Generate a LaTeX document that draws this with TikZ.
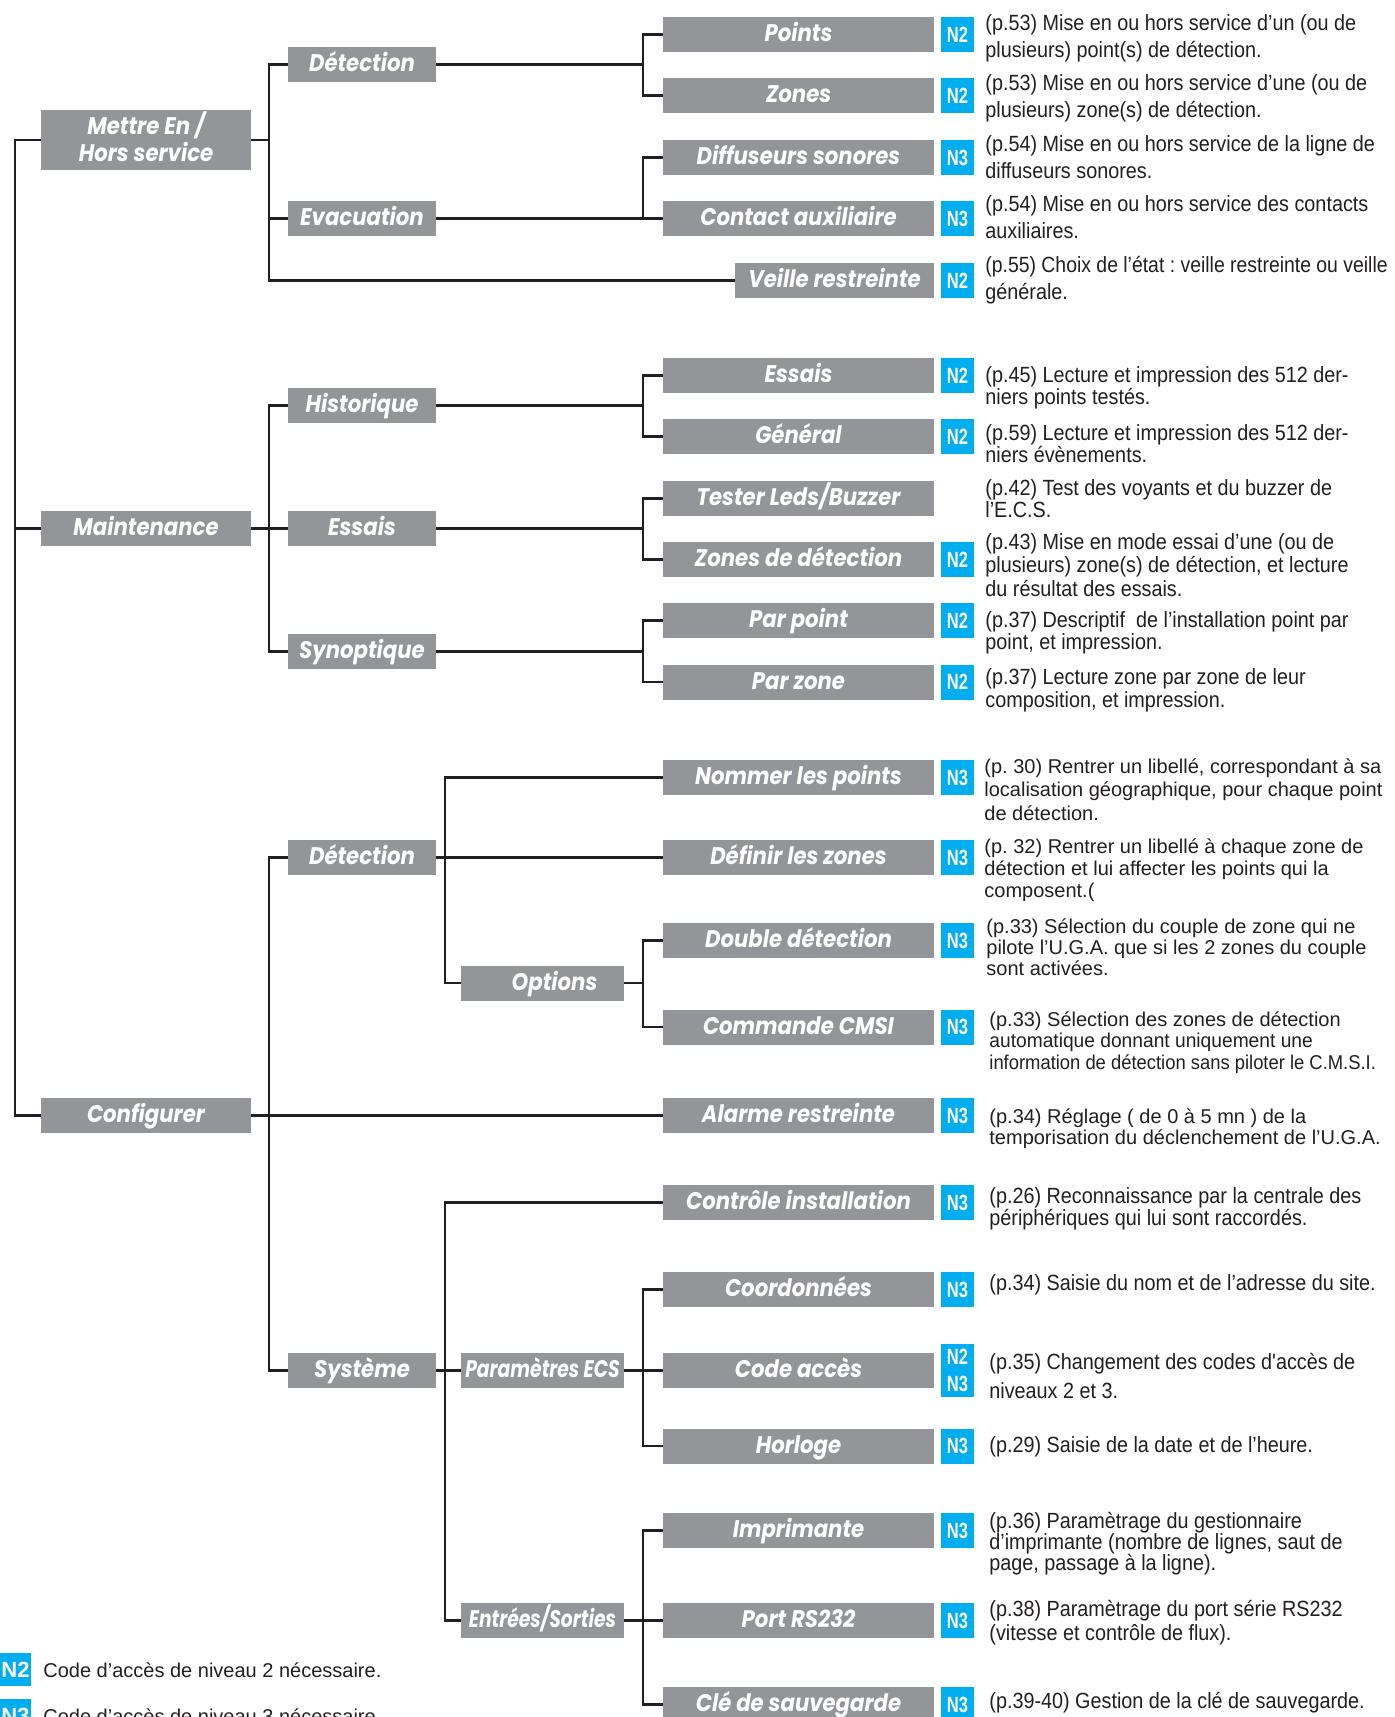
\documentclass[tikz,border=0pt]{standalone}
\usepackage{fontspec}
\setmainfont{Liberation Sans}
\newfontfamily\lblfont{Poppins}[FakeStretch=0.885]
\newfontfamily\lblcfont{Poppins}[FakeStretch=0.78]
\newfontfamily\condfont{Liberation Sans}[FakeStretch=0.9]
\newfontfamily\regfont{Liberation Sans}
\newfontfamily\badgefont{Liberation Sans}[FakeStretch=0.75]
\definecolor{boxgray}{HTML}{939598}
\definecolor{badgeblue}{HTML}{00AEEF}
\definecolor{ink}{HTML}{231F20}
\newcommand\dl[1]{\hbox{#1}}
\newcommand\blk[2]{\vtop{\baselineskip=#1\relax\lineskiplimit=-100pt\relax #2}}
\frenchspacing
\begin{document}
\frenchspacing
\begin{tikzpicture}[x=0.5pt,y=-0.5pt,
  conn/.style={draw=ink, line width=1.3pt},
  box/.style={fill=boxgray, text=white, inner sep=0pt, minimum height=17.5pt},
  lab/.style={box, text height=8.4pt, text depth=1pt, font=\lblfont\bfseries\itshape\fontsize{12}{12}\selectfont},
  labc/.style={lab, font=\lblcfont\bfseries\itshape\fontsize{12}{12}\selectfont},
  topbox/.style={lab, minimum width=105pt},
  lvtwo/.style={lab, minimum width=74pt},
  midbox/.style={labc, minimum width=81.5pt},
  lvthree/.style={lab, minimum width=135.5pt},
  badge/.style={fill=badgeblue, text=white, inner sep=0pt, minimum width=16.5pt, minimum height=17.5pt, text height=7.9pt, text depth=0pt, font=\badgefont\bfseries\fontsize{11}{13.5}\selectfont},
  legbadge/.style={fill=badgeblue, text=white, inner sep=0pt, minimum width=15.5pt, minimum height=16.5pt, text height=7.9pt, text depth=0pt, font=\regfont\bfseries\fontsize{11}{13}\selectfont},
  desc/.style={anchor=base west, inner sep=0pt, text=ink, font=\condfont\fontsize{11}{13}\selectfont},
  descr/.style={desc, font=\regfont\fontsize{10}{11}\selectfont},
  legtext/.style={anchor=base west, inner sep=0pt, text=ink, font=\regfont\fontsize{10}{12}\selectfont}
]
\useasboundingbox (0,0) rectangle (1395,1717);
\fill[white] (0,0) rectangle (1395,1717);

% trunk coordinates
\coordinate (tL) at (15,0);
\coordinate (tB) at (269,0);
\coordinate (tD) at (445,0);
\coordinate (tC) at (643,0);

% top level
\node[box, minimum width=105pt, minimum height=30pt, font=\lblfont\bfseries\itshape\fontsize{12}{12.5}\selectfont] (mettre) at (146,140) {\raisebox{1.6pt}{\begin{tabular}{@{}c@{}}Mettre En /\\Hors service\end{tabular}}};
\node[topbox] (maint) at (146,528.5) {Maintenance};
\node[topbox] (config) at (146,1115.5) {Configurer};

% level 2
\node[lvtwo] (det1) at (362,64.5) {Détection};
\node[lvtwo] (evac) at (362,218.5) {Evacuation};
\node[lvtwo] (hist) at (362,405.5) {Historique};
\node[lvtwo] (ess2) at (362,528.5) {Essais};
\node[lvtwo] (syno) at (362,651.5) {Synoptique};
\node[lvtwo] (det2) at (362,857.5) {Détection};
\node[lvtwo] (sys) at (362,1370.5) {Système};

% intermediate
\node[lab, minimum width=81.5pt] (opt) at (542.5,983) {\hspace{12pt}Options};
\node[midbox] (params) at (542.5,1370.5) {Paramètres ECS};
\node[midbox] (es) at (542.5,1620.5) {Entrées/Sorties};

% level 3
\node[lvthree] (points) at (798.5,34.5) {Points};
\node[lvthree] (zones) at (798.5,95.5) {Zones};
\node[lvthree] (diff) at (798.5,157.5) {Diffuseurs sonores};
\node[lvthree] (contact) at (798.5,218.5) {Contact auxiliaire};
\node[lab, minimum width=99.5pt] (veille) at (834.5,280.5) {Veille restreinte};
\node[lvthree] (ess3) at (798.5,375.5) {Essais};
\node[lvthree] (gen) at (798.5,436.5) {Général};
\node[lvthree] (tester) at (798.5,498.5) {Tester Leds/Buzzer};
\node[lvthree] (zdet) at (798.5,559.5) {Zones de détection};
\node[lvthree] (parpoint) at (798.5,620.5) {Par point};
\node[lvthree] (parzone) at (798.5,682) {Par zone};
\node[lvthree] (nommer) at (798.5,777.5) {Nommer les points};
\node[lvthree] (definir) at (798.5,857.5) {Définir les zones};
\node[lvthree] (double) at (798.5,940.5) {Double détection};
\node[lvthree] (cmsi) at (798.5,1027) {Commande CMSI};
\node[lvthree] (alarme) at (798.5,1115.5) {Alarme restreinte};
\node[lvthree] (controle) at (798.5,1202.5) {Contrôle installation};
\node[lvthree] (coord) at (798.5,1289.5) {Coordonnées};
\node[lvthree] (codeacc) at (798.5,1370.5) {Code accès};
\node[lvthree] (horloge) at (798.5,1446) {Horloge};
\node[lvthree] (impr) at (798.5,1530.5) {Imprimante};
\node[lvthree] (port) at (798.5,1620.5) {Port RS232};
\node[lvthree] (cle) at (798.5,1704.5) {Clé de sauvegarde};

% connectors
\draw[conn] (mettre.west) -- (mettre.west -| tL) |- (config.west);
\draw[conn] (maint.west) -- (maint.west -| tL);

\draw[conn] (det1.west) -- (det1.west -| tB) |- (veille.west);
\draw[conn] (mettre.east) -- (mettre.east -| tB);
\draw[conn] (evac.west) -- (evac.west -| tB);
\draw[conn] (hist.west) -- (hist.west -| tB) |- (syno.west);
\draw[conn] (maint.east) -- (ess2.west);
\draw[conn] (det2.west) -- (det2.west -| tB) |- (sys.west);
\draw[conn] (config.east) -- (alarme.west);

\draw[conn] (det1.east) -- (det1.east -| tC);
\draw[conn] (points.west) -- (points.west -| tC) |- (zones.west);
\draw[conn] (evac.east) -- (contact.west);
\draw[conn] (diff.west) -- (diff.west -| tC) |- (contact.west);
\draw[conn] (hist.east) -- (hist.east -| tC);
\draw[conn] (ess3.west) -- (ess3.west -| tC) |- (gen.west);
\draw[conn] (ess2.east) -- (ess2.east -| tC);
\draw[conn] (tester.west) -- (tester.west -| tC) |- (zdet.west);
\draw[conn] (syno.east) -- (syno.east -| tC);
\draw[conn] (parpoint.west) -- (parpoint.west -| tC) |- (parzone.west);

\draw[conn] (nommer.west) -- (nommer.west -| tD) |- (opt.west);
\draw[conn] (det2.east) -- (definir.west);
\draw[conn] (opt.east) -- (opt.east -| tC);
\draw[conn] (double.west) -- (double.west -| tC) |- (cmsi.west);

\draw[conn] (controle.west) -- (controle.west -| tD) |- (es.west);
\draw[conn] (sys.east) -- (params.west);
\draw[conn] (params.east) -- (codeacc.west);
\draw[conn] (coord.west) -- (coord.west -| tC) |- (horloge.west);
\draw[conn] (es.east) -- (port.west);
\draw[conn] (impr.west) -- (impr.west -| tC) |- (cle.west);

% badges
\node[badge] (b1) at (957.5,34.5) {N2};
\node[badge] (b2) at (957.5,95.5) {N2};
\node[badge] (b3) at (957.5,157.5) {N3};
\node[badge] (b4) at (957.5,218.5) {N3};
\node[badge] (b5) at (957.5,280.5) {N2};
\node[badge] (b6) at (957.5,375.5) {N2};
\node[badge] (b7) at (957.5,436.5) {N2};
\node[badge] (b9) at (957.5,559.5) {N2};
\node[badge] (b10) at (957.5,620.5) {N2};
\node[badge] (b11) at (957.5,682) {N2};
\node[badge] (b12) at (957.5,777.5) {N3};
\node[badge] (b13) at (957.5,857.5) {N3};
\node[badge] (b14) at (957.5,940.5) {N3};
\node[badge] (b15) at (957.5,1027) {N3};
\node[badge] (b16) at (957.5,1115.5) {N3};
\node[badge] (b17) at (957.5,1202.5) {N3};
\node[badge] (b18) at (957.5,1289.5) {N3};
\node[badge, minimum height=26.5pt, text height=, text depth=] (b19) at (957.5,1370.5) {\blk{13.5pt}{\dl{N2}\dl{N3}}};
\node[badge] (b20) at (957.5,1446) {N3};
\node[badge] (b21) at (957.5,1530.5) {N3};
\node[badge] (b22) at (957.5,1620.5) {N3};
\node[badge] (b23) at (957.5,1704.5) {N3};

% descriptions
\node[desc] (d1) at (985,31) {\blk{13.25pt}{\dl{(p.53) Mise en ou hors service d’un (ou de}\dl{plusieurs) point(s) de détection.}}};
\node[desc] (d2) at (985,91) {\blk{13.25pt}{\dl{(p.53) Mise en ou hors service d’une (ou de}\dl{plusieurs) zone(s) de détection.}}};
\node[desc] (d3) at (985,152) {\blk{13.25pt}{\dl{(p.54) Mise en ou hors service de la ligne de}\dl{diffuseurs sonores.}}};
\node[desc] (d4) at (985,212) {\blk{13.25pt}{\dl{(p.54) Mise en ou hors service des contacts}\dl{auxiliaires.}}};
\node[desc] (d5) at (985,273) {\blk{13.25pt}{\dl{\scalebox{0.98}[1]{(p.55) Choix de l’état : veille restreinte ou veille}}\dl{générale.}}};

\node[desc] (d6) at (985,382) {\blk{11.25pt}{\dl{(p.45) Lecture et impression des 512 der-}\dl{niers points testés.}}};
\node[desc] (d7) at (985,440) {\blk{11.25pt}{\dl{(p.59) Lecture et impression des 512 der-}\dl{niers évènements.}}};
\node[desc] (d8) at (985,495) {\blk{11.25pt}{\dl{(p.42) Test des voyants et du buzzer de}\dl{l’E.C.S.}}};
\node[desc] (d9) at (985,549) {\blk{11.75pt}{\dl{(p.43) Mise en mode essai d’une (ou de}\dl{plusieurs) zone(s) de détection, et lecture}\dl{du résultat des essais.}}};
\node[desc] (d10) at (985,627) {\blk{11pt}{\dl{(p.37) Descriptif \ de l’installation point par}\dl{point, et impression.}}};
\node[desc] (d11) at (985,684) {\blk{11.5pt}{\dl{(p.37) Lecture zone par zone de leur}\dl{composition, et impression.}}};

\node[descr] (d12) at (984,773) {\blk{11.75pt}{\dl{(p. 30) Rentrer un libellé, correspondant à sa}\dl{localisation géographique, pour chaque point}\dl{de détection.}}};
\node[descr] (d13) at (984,853) {\blk{11pt}{\dl{(p. 32) Rentrer un libellé à chaque zone de}\dl{détection et lui affecter les points qui la}\dl{composent.(}}};
\node[descr] (d14) at (986,933) {\blk{10.5pt}{\dl{(p.33) Sélection du couple de zone qui ne}\dl{pilote l’U.G.A. que si les 2 zones du couple}\dl{sont activées.}}};
\node[descr] (d15) at (989,1026) {\blk{10.75pt}{\dl{(p.33) Sélection des zones de détection}\dl{\scalebox{0.96}[1]{automatique donnant uniquement une}}\dl{\scalebox{0.92}[1]{information de détection sans piloter le C.M.S.I.}}}};
\node[descr] (d16) at (989,1123) {\blk{10.75pt}{\dl{(p.34) Réglage ( de 0 à 5 mn ) de la}\dl{temporisation du déclenchement de l’U.G.A.}}};

\node[desc] (d17) at (989,1203) {\blk{11pt}{\dl{(p.26) Reconnaissance par la centrale des}\dl{périphériques qui lui sont raccordés.}}};
\node[desc] (d18) at (989,1290) {(p.34) Saisie du nom et de l’adresse du site.};
\node[desc] (d19) at (989,1369) {\blk{14.5pt}{\dl{(p.35) Changement des codes d'accès de}\dl{niveaux 2 et 3.}}};
\node[desc] (d20) at (989,1452) {(p.29) Saisie de la date et de l’heure.};
\node[desc] (d21) at (989,1528) {\blk{10.5pt}{\dl{(p.36) Paramètrage du gestionnaire}\dl{d’imprimante (nombre de lignes, saut de}\dl{page, passage à la ligne).}}};
\node[desc] (d22) at (989,1616) {\blk{12pt}{\dl{(p.38) Paramètrage du port série RS232}\dl{(vitesse et contrôle de flux).}}};
\node[desc] (d23) at (989,1708) {(p.39-40) Gestion de la clé de sauvegarde.};

% legend
\node[legbadge] (lg2) at (15.5,1669.5) {N2};
\node[legtext] (lt2) at (43,1677) {Code d’accès de niveau 2 nécessaire.};
\node[legbadge] (lg3) at (15.5,1715.5) {N3};
\node[legtext] (lt3) at (43,1723) {Code d’accès de niveau 3 nécessaire.};
\end{tikzpicture}
\end{document}
